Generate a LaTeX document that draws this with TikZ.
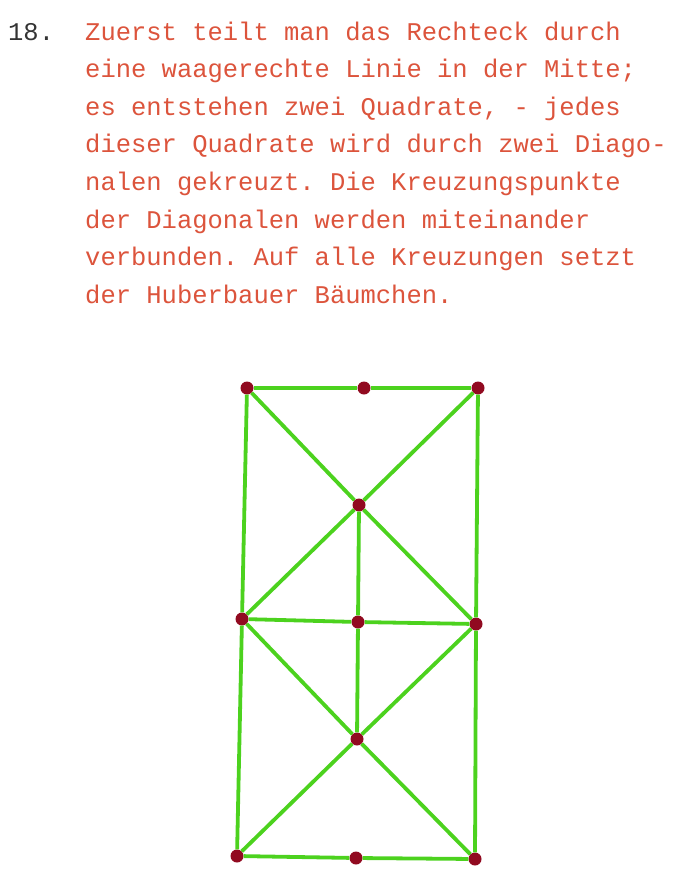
\documentclass[tikz,border=0pt]{standalone}
\usepackage{fontspec}
\setmonofont{Liberation Mono}
\usepackage{tikz}
\usetikzlibrary{positioning, calc}
\definecolor{inkred}{RGB}{220,84,60}
\definecolor{pengreen}{RGB}{76,210,30}
\definecolor{dotred}{RGB}{145,10,32}
\tikzstyle{treedot}=[circle,fill=dotred,inner sep=0pt,minimum size=13pt]
\tikzstyle{edgepath}=[pengreen,line width=3.8pt]
\tikzstyle{typed}=[inkred,font=\ttfamily\fontsize{25.5}{37.6}\selectfont,anchor=base west,inner sep=0pt]

\begin{document}
\frenchspacing
\begin{tikzpicture}[x=1pt,y=-1pt]
        \useasboundingbox (0,0) rectangle (685,889);

        % typed text
        \node[typed,black!80] (nr) at (8,40) {18.};
        \node[typed] (t1) at (85,40) {Zuerst teilt man das Rechteck durch};
        \node[typed] (t2) at ($(t1.base west)+(0,37.6)$) {eine waagerechte Linie in der Mitte;};
        \node[typed] (t3) at ($(t2.base west)+(0,37.6)$) {es entstehen zwei Quadrate, - jedes};
        \node[typed] (t4) at ($(t3.base west)+(0,37.6)$) {dieser Quadrate wird durch zwei Diago-};
        \node[typed] (t5) at ($(t4.base west)+(0,37.6)$) {nalen gekreuzt. Die Kreuzungspunkte};
        \node[typed] (t6) at ($(t5.base west)+(0,37.6)$) {der Diagonalen werden miteinander};
        \node[typed] (t7) at ($(t6.base west)+(0,37.6)$) {verbunden. Auf alle Kreuzungen setzt};
        \node[typed] (t8) at ($(t7.base west)+(0,37.6)$) {der Huberbauer Bäumchen.};

        % dots
        \node[treedot] (tl) at (247,388) {};
        \node[treedot] (tm) at (364,388) {};
        \node[treedot] (tr) at (478,388) {};
        \node[treedot] (c1) at (359,505) {};
        \node[treedot] (ml) at (242,619) {};
        \node[treedot] (mm) at (358,622) {};
        \node[treedot] (mr) at (476,624) {};
        \node[treedot] (c2) at (357,739) {};
        \node[treedot] (bl) at (237,856) {};
        \node[treedot] (bm) at (356,858) {};
        \node[treedot] (br) at (475,859) {};

        % rectangle and middle line
        \path[edgepath]
            (tl) edge (tm)
            (tm) edge (tr)
            (tl) edge (ml)
            (ml) edge (bl)
            (tr) edge (mr)
            (mr) edge (br)
            (bl) edge (bm)
            (bm) edge (br)
            (ml) edge (mm)
            (mm) edge (mr);

        % diagonals
        \path[edgepath]
            (tl) edge (c1)
            (c1) edge (mr)
            (tr) edge (c1)
            (c1) edge (ml)
            (ml) edge (c2)
            (c2) edge (br)
            (mr) edge (c2)
            (c2) edge (bl);

        % crossings joined
        \path[edgepath]
            (c1) edge (mm)
            (mm) edge (c2);
    \end{tikzpicture}
\end{document}
